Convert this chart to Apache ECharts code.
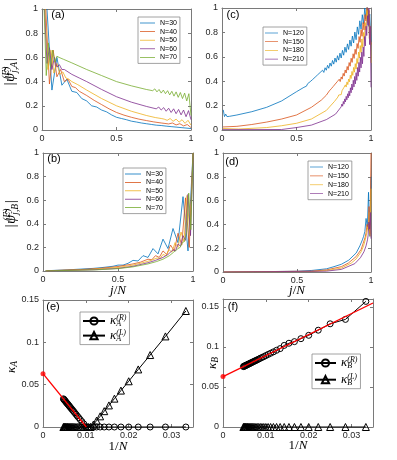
<!DOCTYPE html>
<html>
<head>
<meta charset="utf-8">
<script src="https://cdn.jsdelivr.net/npm/echarts@6.0.0/dist/echarts.min.js"></script>
<style>
  html, body { margin: 0; padding: 0; background: #fff; }
  #chart { width: 397px; height: 460px; }
</style>
</head>
<body>
<div id="chart"></div>
<script>
// wave function curves, [site j, value], x = j / N
const nLeft = [30, 40, 50, 60, 70];
const nRight = [120, 150, 180, 210];

const a30 = [[1,1.0],[2,0.33],[3,0.6],[4,0.37],[5,0.42],[6,0.32],[7,0.31],[8,0.26],[9,0.24],[10,0.2],[11,0.19],[12,0.165],[13,0.15],[14,0.125],[15,0.105],[16,0.095],[17,0.085],[18,0.073],[19,0.066],[20,0.058],[21,0.052],[22,0.046],[23,0.04],[24,0.037],[25,0.032],[26,0.028],[27,0.024],[28,0.02],[29,0.016],[30,0.012]];
const a40 = [[1,1.0],[2,0.38],[3,0.66],[4,0.44],[5,0.5],[6,0.4],[7,0.42],[8,0.36],[9,0.35],[10,0.32],[12,0.285],[14,0.245],[16,0.21],[18,0.175],[20,0.145],[22,0.123],[24,0.105],[26,0.09],[28,0.078],[30,0.067],[32,0.058],[33,0.054],[34,0.05],[35,0.058],[36,0.042],[37,0.052],[38,0.034],[39,0.045],[40,0.02]];
const a50 = [[1,1.0],[2,0.5],[3,0.66],[4,0.47],[5,0.55],[6,0.46],[7,0.48],[8,0.43],[9,0.42],[10,0.4],[12,0.375],[15,0.33],[20,0.26],[25,0.2],[30,0.155],[35,0.12],[38,0.103],[40,0.095],[41,0.09],[42,0.08],[43,0.095],[44,0.072],[45,0.09],[46,0.065],[47,0.085],[48,0.055],[49,0.08],[50,0.04]];
const a60 = [[1,1.0],[2,0.55],[3,0.68],[4,0.5],[5,0.6],[6,0.52],[7,0.54],[8,0.5],[9,0.5],[12,0.46],[15,0.43],[18,0.4],[24,0.335],[30,0.275],[36,0.23],[42,0.195],[46,0.175],[47,0.19],[48,0.165],[49,0.185],[50,0.155],[51,0.18],[52,0.145],[53,0.175],[54,0.135],[55,0.17],[56,0.125],[57,0.165],[58,0.11],[59,0.16],[60,0.085]];
const a70 = [[1,1.0],[2,0.45],[3,0.72],[4,0.52],[5,0.66],[6,0.56],[7,0.61],[8,0.6],[10,0.585],[14,0.555],[21,0.5],[28,0.45],[35,0.4],[42,0.365],[49,0.335],[52,0.325],[53,0.34],[54,0.315],[55,0.335],[56,0.305],[57,0.33],[58,0.3],[59,0.325],[60,0.29],[61,0.32],[62,0.28],[63,0.315],[64,0.27],[65,0.31],[66,0.26],[67,0.305],[68,0.24],[69,0.3],[70,0.12]];

const b30 = [[1,0.003],[5,0.01],[10,0.022],[12,0.03],[14,0.04],[15,0.05],[16,0.05],[17,0.065],[18,0.09],[19,0.085],[20,0.13],[21,0.115],[22,0.19],[23,0.145],[24,0.27],[25,0.19],[26,0.36],[27,0.24],[28,0.63],[29,0.17],[30,1.0]];
const b40 = [[1,0.002],[10,0.012],[15,0.022],[20,0.038],[24,0.06],[26,0.075],[28,0.1],[29,0.095],[30,0.13],[31,0.115],[32,0.17],[33,0.14],[34,0.22],[35,0.17],[36,0.32],[37,0.22],[38,0.62],[39,0.2],[40,1.0]];
const b50 = [[1,0.001],[15,0.012],[25,0.03],[30,0.05],[34,0.075],[36,0.09],[38,0.11],[39,0.105],[40,0.14],[41,0.13],[42,0.18],[43,0.16],[44,0.24],[45,0.2],[46,0.33],[47,0.25],[48,0.64],[49,0.3],[50,1.0]];
const b60 = [[1,0.001],[20,0.01],[30,0.022],[36,0.04],[42,0.07],[45,0.09],[48,0.115],[50,0.14],[52,0.18],[53,0.17],[54,0.23],[55,0.21],[56,0.3],[57,0.26],[58,0.65],[59,0.3],[60,1.0]];
const b70 = [[1,0.001],[25,0.01],[35,0.02],[42,0.035],[49,0.06],[53,0.08],[56,0.1],[59,0.13],[61,0.16],[63,0.19],[64,0.2],[65,0.24],[66,0.25],[67,0.33],[68,0.66],[69,0.35],[70,1.0]];

const c120 = [[1,0.165],[2,0.11],[3,0.13],[4,0.11],[6,0.112],[12,0.123],[24,0.15],[36,0.186],[48,0.238],[60,0.314],[66,0.35],[67,0.364],[68,0.359],[69,0.38],[70,0.374],[71,0.396],[72,0.388],[73,0.414],[74,0.405],[75,0.433],[76,0.422],[77,0.452],[78,0.438],[79,0.471],[80,0.455],[81,0.49],[82,0.472],[83,0.51],[84,0.49],[85,0.53],[86,0.506],[87,0.549],[88,0.523],[89,0.57],[90,0.54],[91,0.59],[92,0.556],[93,0.609],[94,0.573],[95,0.63],[96,0.59],[97,0.653],[98,0.613],[99,0.679],[100,0.637],[101,0.706],[102,0.66],[103,0.737],[104,0.687],[105,0.77],[106,0.713],[107,0.803],[108,0.74],[109,0.845],[110,0.784],[111,0.895],[112,0.826],[113,0.945],[114,0.87],[115,1.0],[116,0.91],[117,1.02],[118,0.85],[119,0.95],[120,0.72]];
const c150 = [[1,0.025],[15,0.03],[30,0.045],[45,0.065],[60,0.09],[75,0.123],[90,0.186],[100,0.245],[105,0.285],[106,0.301],[107,0.294],[108,0.32],[109,0.31],[110,0.338],[111,0.327],[112,0.357],[113,0.345],[114,0.377],[115,0.362],[116,0.396],[117,0.38],[118,0.416],[119,0.397],[120,0.435],[121,0.417],[122,0.464],[123,0.442],[124,0.492],[125,0.467],[126,0.521],[127,0.491],[128,0.553],[129,0.523],[130,0.588],[131,0.554],[132,0.625],[133,0.587],[134,0.662],[135,0.62],[136,0.709],[137,0.669],[138,0.766],[139,0.719],[140,0.823],[141,0.768],[142,0.881],[143,0.82],[144,0.946],[145,0.893],[146,1.02],[147,0.93],[148,0.98],[149,0.8],[150,0.7]];
const c180 = [[1,0.012],[20,0.008],[54,0.02],[72,0.035],[90,0.055],[108,0.09],[126,0.16],[136,0.235],[140,0.27],[141,0.287],[142,0.276],[143,0.303],[144,0.29],[145,0.322],[146,0.31],[147,0.345],[148,0.331],[149,0.37],[150,0.352],[151,0.394],[152,0.372],[153,0.418],[154,0.395],[155,0.449],[156,0.422],[157,0.48],[158,0.448],[159,0.513],[160,0.474],[161,0.544],[162,0.5],[163,0.586],[164,0.545],[165,0.639],[166,0.59],[167,0.692],[168,0.635],[169,0.746],[170,0.678],[171,0.8],[172,0.74],[173,0.88],[174,0.82],[175,0.98],[176,0.88],[177,1.0],[178,0.75],[179,0.85],[180,0.55]];
const c210 = [[1,0.003],[84,0.004],[105,0.02],[126,0.04],[147,0.085],[160,0.13],[168,0.19],[169,0.213],[170,0.195],[171,0.234],[172,0.212],[173,0.255],[174,0.23],[175,0.276],[176,0.247],[177,0.297],[178,0.264],[179,0.319],[180,0.28],[181,0.346],[182,0.305],[183,0.377],[184,0.329],[185,0.408],[186,0.353],[187,0.439],[188,0.378],[189,0.47],[190,0.407],[191,0.512],[192,0.441],[193,0.554],[194,0.475],[195,0.596],[196,0.509],[197,0.638],[198,0.543],[199,0.68],[200,0.603],[201,0.766],[202,0.689],[203,0.851],[204,0.774],[205,0.937],[206,0.86],[207,1.0],[208,0.7],[209,0.85],[210,0.35]];

const d120 = [[1,0.0],[60,0.006],[72,0.013],[84,0.027],[90,0.045],[96,0.065],[102,0.1],[108,0.16],[111,0.22],[113,0.27],[114,0.3],[115,0.34],[116,0.45],[117,0.38],[118,0.67],[119,0.3],[120,0.8]];
const d150 = [[1,0.0],[90,0.007],[105,0.018],[120,0.045],[127,0.075],[135,0.13],[140,0.19],[142,0.24],[144,0.29],[145,0.33],[146,0.4],[147,0.36],[148,0.55],[149,0.32],[150,1.0]];
const d180 = [[1,0.0],[108,0.004],[126,0.012],[144,0.033],[156,0.075],[162,0.11],[168,0.17],[171,0.22],[173,0.27],[175,0.33],[176,0.38],[177,0.35],[178,0.5],[179,0.3],[180,0.7]];
const d210 = [[1,0.0],[147,0.007],[168,0.022],[187,0.07],[195,0.12],[200,0.17],[203,0.22],[205,0.27],[206,0.31],[207,0.42],[208,0.36],[209,0.5],[210,0.28]];

// kappa vs 1/N
const kN = [30,35,40,45,50,55,60,65,70,75,80,85,90,95,100,105,110,115,120,125,130,135,140,145,150,155,160,165,170,175,180,185,190,195,200,205,210];
const kAR = [0,0,0,0,0,0,0,0,0,0,0,0,0,0,0,0.0036,0.0063,0.0087,0.011,0.013,0.015,0.0168,0.0185,0.02,0.0214,0.0228,0.024,0.0252,0.0263,0.0274,0.0283,0.0292,0.0302,0.031,0.0318,0.0325,0.0333];
const kAL = [0.137,0.107,0.085,0.068,0.054,0.043,0.0335,0.0255,0.0187,0.0126,0.0075,0.0029,0,0,0,0,0,0,0,0,0,0,0,0,0,0,0,0,0,0,0,0,0,0,0,0,0];
const kBR = [0.157,0.1345,0.129,0.121,0.1146,0.1104,0.1067,0.1047,0.102,0.098,0.0959,0.0939,0.0922,0.0907,0.0893,0.088,0.0869,0.0859,0.0849,0.084,0.0832,0.0825,0.0818,0.0811,0.0805,0.08,0.0794,0.0789,0.0785,0.078,0.0776,0.0772,0.0768,0.0765,0.0762,0.0758,0.0755];
const kBL = [0,0,0,0,0,0,0,0,0,0,0,0,0,0,0,0,0,0,0,0,0,0,0,0,0,0,0,0,0,0,0,0,0,0,0,0,0];
const fitA = [[0, 0.063], [0.0101, 0]];
const fitB = [[0, 0.063], [0.035, 0.155]];

const colors = ["#0072BD", "#D95319", "#EDB120", "#7E2F8E", "#77AC30"];
const axisColor = "#7a7a7a";
const textColor = "#262626";
const sans = "Liberation Sans";
const serif = "Liberation Serif";

const chart = echarts.init(document.getElementById("chart"));

// grid order: a, c, b, d, e, f
const grids = [
  { left: 42, top: 9, width: 149, height: 121 },
  { left: 222, top: 8, width: 149, height: 122 },
  { left: 43, top: 153, width: 150, height: 118 },
  { left: 223, top: 153, width: 148, height: 119 },
  { left: 43, top: 300, width: 150, height: 127 },
  { left: 223, top: 299, width: 150, height: 128 }
];

const xAxes = [];
const yAxes = [];

function makeAxis(gi, pos, min, max, step, showLabel, hideMax) {
  return {
    gridIndex: gi,
    type: "value",
    position: pos,
    min: min,
    max: max,
    interval: step,
    axisLine: { show: true, onZero: false, lineStyle: { color: axisColor, width: 1 } },
    axisTick: { show: true, inside: true, length: 3, lineStyle: { color: axisColor, width: 1 } },
    axisLabel: {
      show: showLabel,
      color: textColor,
      fontSize: 9,
      fontFamily: sans,
      margin: 4,
      showMaxLabel: hideMax ? false : null
    },
    splitLine: { show: false }
  };
}

function addAxes(gi, xr, yr) {
  xAxes.push(makeAxis(gi, "bottom", xr[0], xr[1], xr[2], true, xr[3]));
  xAxes.push(makeAxis(gi, "top", xr[0], xr[1], xr[2], false, false));
  yAxes.push(makeAxis(gi, "left", yr[0], yr[1], yr[2], true, yr[3]));
  yAxes.push(makeAxis(gi, "right", yr[0], yr[1], yr[2], false, false));
}

addAxes(0, [0, 1, 0.5], [0, 1, 0.2]);
addAxes(1, [0, 1, 0.5], [0, 1, 0.2]);
addAxes(2, [0, 1, 0.5], [0, 1, 0.2]);
addAxes(3, [0, 1, 0.5], [0, 1, 0.2]);
addAxes(4, [0, 0.035, 0.01, true], [0, 0.15, 0.05]);
addAxes(5, [0, 0.035, 0.01, true], [0, 0.16, 0.05, true]);

const series = [];

function curve(name, N, pts, gi, color) {
  series.push({
    name: name,
    type: "line",
    xAxisIndex: 2 * gi,
    yAxisIndex: 2 * gi,
    symbol: "none",
    clip: true,
    silent: true,
    lineStyle: { color: color, width: 0.8 },
    itemStyle: { color: color },
    data: pts.map(p => [p[0] / N, p[1]])
  });
}

[a30, a40, a50, a60, a70].forEach((pts, i) => curve("N=" + nLeft[i], nLeft[i], pts, 0, colors[i]));
[c120, c150, c180, c210].forEach((pts, i) => curve("N=" + nRight[i], nRight[i], pts, 1, colors[i]));
[b30, b40, b50, b60, b70].forEach((pts, i) => curve("N=" + nLeft[i], nLeft[i], pts, 2, colors[i]));
[d120, d150, d180, d210].forEach((pts, i) => curve("N=" + nRight[i], nRight[i], pts, 3, colors[i]));

function kappa(name, values, gi, symbol, size) {
  series.push({
    name: name,
    type: "line",
    xAxisIndex: 2 * gi,
    yAxisIndex: 2 * gi,
    symbol: symbol,
    symbolSize: size,
    showAllSymbol: true,
    clip: false,
    silent: true,
    lineStyle: { color: "#000", width: 1 },
    itemStyle: { color: "rgba(255,255,255,0)", borderColor: "#000", borderWidth: 1 },
    data: kN.map((n, i) => [1 / n, values[i]])
  });
}

function fit(pts, gi) {
  series.push({
    name: "fit" + gi,
    type: "line",
    xAxisIndex: 2 * gi,
    yAxisIndex: 2 * gi,
    symbol: "none",
    silent: true,
    z: 5,
    lineStyle: { color: "#ff0000", width: 1.3 },
    data: pts
  });
  series.push({
    name: "dot" + gi,
    type: "scatter",
    xAxisIndex: 2 * gi,
    yAxisIndex: 2 * gi,
    symbolSize: 5,
    silent: true,
    z: 6,
    clip: false,
    itemStyle: { color: "#ff0000" },
    data: [pts[0]]
  });
}

kappa("kAR", kAR, 4, "circle", 6);
kappa("kAL", kAL, 4, "triangle", 7);
fit(fitA, 4);
kappa("kBR", kBR, 5, "circle", 6);
kappa("kBL", kBL, 5, "triangle", 7);
fit(fitB, 5);

const kappaRich = {
  k: { fontFamily: serif, fontStyle: "italic", fontSize: 13, lineHeight: 14, color: "#000" },
  z: { fontFamily: serif, fontStyle: "italic", fontSize: 8, lineHeight: 7, verticalAlign: "bottom", width: 0, color: "#000" },
  p: { fontFamily: serif, fontStyle: "italic", fontSize: 8, lineHeight: 7, verticalAlign: "top", color: "#000" }
};
const kappaNames = {
  kAR: "{k|κ}{z|A}{p|(R)}",
  kAL: "{k|κ}{z|A}{p|(L)}",
  kBR: "{k|κ}{z|B}{p|(R)}",
  kBL: "{k|κ}{z|B}{p|(L)}"
};

function nLegend(names, left, top, lineLen, gap) {
  return {
    orient: "vertical",
    left: left,
    top: top,
    padding: [2, 3, 2, 2],
    itemWidth: lineLen,
    itemHeight: 8,
    itemGap: gap,
    icon: "path://M0,0H40V2H0Z",
    selectedMode: false,
    backgroundColor: "#fff",
    borderColor: "#8a8a8a",
    borderWidth: 0.8,
    borderRadius: 0,
    textStyle: { fontSize: 7, lineHeight: 8, fontFamily: sans, color: "#000" },
    data: names
  };
}

function kLegend(names, left, top, lineLen, gap) {
  return {
    orient: "vertical",
    left: left,
    top: top,
    padding: [2, 3, 2, 2],
    itemWidth: lineLen,
    itemHeight: 9,
    itemGap: gap,
    selectedMode: false,
    backgroundColor: "#fff",
    borderColor: "#8a8a8a",
    borderWidth: 0.8,
    borderRadius: 0,
    formatter: name => kappaNames[name],
    textStyle: { rich: kappaRich },
    data: names
  };
}

const legends = [
  nLegend(["N=30", "N=40", "N=50", "N=60", "N=70"], 138, 17, 15, 0.6),
  nLegend(["N=120", "N=150", "N=180", "N=210"], 263, 27, 13, 0.7),
  nLegend(["N=30", "N=40", "N=50", "N=60", "N=70"], 123, 168, 16, 0.4),
  nLegend(["N=120", "N=150", "N=180", "N=210"], 308, 161, 13, 0.9),
  kLegend(["kAR", "kAL"], 80, 312, 22, 0.6),
  kLegend(["kBR", "kBL"], 312, 354, 21, 2.7)
];

const psiRich = {
  b: { fontFamily: serif, fontStyle: "italic", fontSize: 15, lineHeight: 18, fill: "#000" },
  p: { fontFamily: serif, fontStyle: "italic", fontSize: 9.5, lineHeight: 8, verticalAlign: "top", width: 0, fill: "#000" },
  s: { fontFamily: serif, fontStyle: "italic", fontSize: 9.5, lineHeight: 8, verticalAlign: "bottom", fill: "#000" },
  k: { fontFamily: serif, fontStyle: "italic", fontSize: 13, lineHeight: 14, fill: "#000" },
  i: { fontFamily: serif, fontStyle: "italic", fontSize: 13, fill: "#000" },
  r: { fontFamily: serif, fontSize: 13, fill: "#000" }
};

function label(x, y, text, rotate) {
  return {
    type: "text",
    x: x,
    y: y,
    rotation: rotate ? Math.PI / 2 : 0,
    silent: true,
    style: { text: text, rich: psiRich, align: "center", verticalAlign: "middle", fill: "#000" }
  };
}

function letter(x, y, text) {
  return {
    type: "text",
    x: x,
    y: y,
    silent: true,
    style: { text: text, font: "11px " + sans, fill: "#000", align: "center", verticalAlign: "middle" }
  };
}

const graphics = [
  label(10, 72, "{b||ψ̃}{p|(E)}{s|j,A}{b||}", true),
  label(11, 214, "{b||ψ̃}{p|(E)}{s|j,B}{b||}", true),
  label(12, 367, "{k|κ}{s|A}", true),
  label(213, 363, "{k|κ}{s|B}", true),
  label(118, 291, "{i|j}{r|/}{i|N}", false),
  label(297, 291, "{i|j}{r|/}{i|N}", false),
  label(118, 447, "{r|1/}{i|N}", false),
  label(298, 446, "{r|1/}{i|N}", false),
  letter(58, 15, "(a)"),
  letter(233, 15, "(c)"),
  letter(54, 159, "(b)"),
  letter(232, 162, "(d)"),
  letter(53, 307, "(e)"),
  letter(233, 307, "(f)")
];

chart.setOption({
  animation: false,
  backgroundColor: "#fff",
  grid: grids,
  xAxis: xAxes,
  yAxis: yAxes,
  legend: legends,
  series: series,
  graphic: graphics
});
</script>
</body>
</html>
